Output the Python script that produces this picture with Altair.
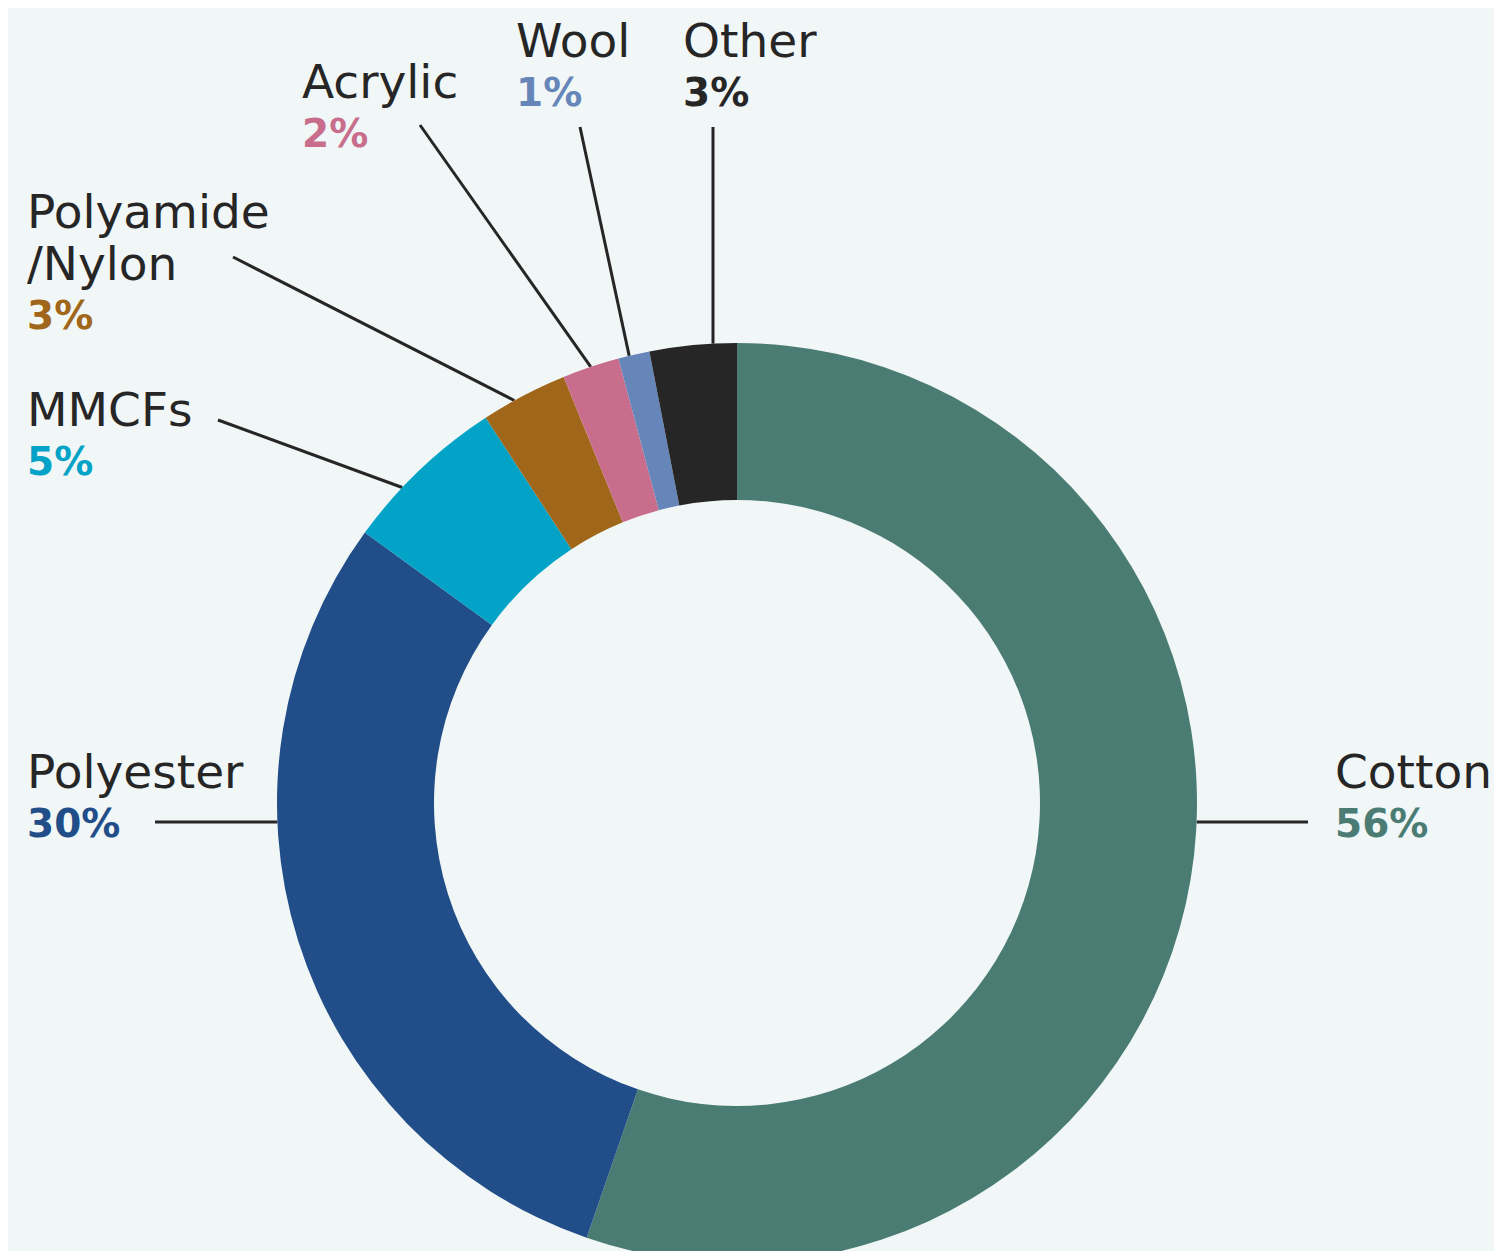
import math
import altair as alt
import pandas as pd

# ---------------- data ----------------
categories = ["Cotton", "Polyester", "MMCFs", "Polyamide/Nylon", "Acrylic", "Wool", "Other"]
shares = [55.3, 29.7, 5.8, 3.05, 2.0, 1.1, 3.05]
pct_labels = ["56%", "30%", "5%", "3%", "2%", "1%", "3%"]
name_lines = [["Cotton"], ["Polyester"], ["MMCFs"], ["Polyamide", "/Nylon"], ["Acrylic"], ["Wool"], ["Other"]]
colors = ["#4a7c73", "#214e88", "#03a3c8", "#a0661a", "#c86e8c", "#6686ba", "#262626"]

# ---------------- layout ----------------
W, H = 1486, 1243
CX, CY = 729, 795
R_OUT, R_IN = 460, 303
BG = "#f1f6f6"
DARK = "#262626"
FONT = "DejaVu Sans"
NAME_SIZE = 47
PCT_SIZE = 39
LINE_H = 52
PCT_GAP = 49
# label anchor (left x, first baseline), leader outer end, leader mode, position within slice
label_layout = {
    "Cotton": dict(x=1327, y=780, lx=1300, ly=814, mode="h", f=0.5),
    "Polyester": dict(x=19, y=780, lx=147, ly=814, mode="h", f=0.5),
    "MMCFs": dict(x=19, y=418, lx=210, ly=412, mode="frac", f=0.35),
    "Polyamide/Nylon": dict(x=19, y=220, lx=225, ly=249, mode="frac", f=0.38),
    "Acrylic": dict(x=294, y=90, lx=412, ly=117, mode="frac", f=0.5),
    "Wool": dict(x=508, y=49, lx=572, ly=119, mode="frac", f=0.35),
    "Other": dict(x=675, y=49, lx=705, ly=119, mode="v", f=0.5),
}

# ---------------- tables ----------------
arc_df = pd.DataFrame({"cat": categories, "share": shares, "idx": list(range(len(categories)))})

total = sum(shares)
cum = 0.0
lead_rows, name_rows, pct_rows = [], [], []
for cat, s, pct, lines, col in zip(categories, shares, pct_labels, name_lines, colors):
    a0 = cum / total * 2 * math.pi
    cum += s
    a1 = cum / total * 2 * math.pi
    lay = label_layout[cat]
    if lay["mode"] == "h":
        dy = lay["ly"] - CY
        dx = math.sqrt(R_OUT ** 2 - dy ** 2)
        sx = CX + dx if lay["lx"] > CX else CX - dx
        sy = lay["ly"]
    elif lay["mode"] == "v":
        dx = lay["lx"] - CX
        sx = lay["lx"]
        sy = CY - math.sqrt(R_OUT ** 2 - dx ** 2)
    else:
        am = a0 + (a1 - a0) * lay["f"]
        sx = CX + R_OUT * math.sin(am)
        sy = CY - R_OUT * math.cos(am)
    lead_rows.append(dict(x=lay["lx"], y=lay["ly"], x2=sx, y2=sy))
    for i, ln in enumerate(lines):
        name_rows.append(dict(x=lay["x"], y=lay["y"] + i * LINE_H, text=ln))
    pct_rows.append(dict(x=lay["x"], y=lay["y"] + (len(lines) - 1) * LINE_H + PCT_GAP, text=pct, color=col))

lead_df = pd.DataFrame(lead_rows)
name_df = pd.DataFrame(name_rows)
pct_df = pd.DataFrame(pct_rows)

# ---------------- chart ----------------
arcs = alt.Chart(arc_df).mark_arc(innerRadius=R_IN, outerRadius=R_OUT).encode(
    theta=alt.Theta("share:Q", stack=True),
    color=alt.Color("cat:N", scale=alt.Scale(domain=categories, range=colors), legend=None),
    order=alt.Order("idx:Q"),
    x=alt.value(CX),
    y=alt.value(CY),
)

leaders = alt.Chart(lead_df).mark_rule(color=DARK, strokeWidth=3).encode(
    x=alt.X("x:Q", scale=None, axis=None),
    y=alt.Y("y:Q", scale=None, axis=None),
    x2="x2:Q",
    y2="y2:Q",
)

names = alt.Chart(name_df).mark_text(
    align="left", baseline="alphabetic", font=FONT, fontSize=NAME_SIZE, fontWeight="normal", color=DARK
).encode(
    x=alt.X("x:Q", scale=None, axis=None),
    y=alt.Y("y:Q", scale=None, axis=None),
    text="text:N",
)

pcts = alt.Chart(pct_df).mark_text(
    align="left", baseline="alphabetic", font=FONT, fontSize=PCT_SIZE, fontWeight="bold"
).encode(
    x=alt.X("x:Q", scale=None, axis=None),
    y=alt.Y("y:Q", scale=None, axis=None),
    text="text:N",
    color=alt.Color("color:N", scale=None),
)

chart = alt.layer(leaders, arcs, names, pcts).properties(
    width=W, height=H, padding=0, background=BG,
    autosize=alt.AutoSizeParams(type="none"),
).configure_view(stroke=None)

chart.save("out.html", embed_options={"renderer": "svg", "actions": False})
